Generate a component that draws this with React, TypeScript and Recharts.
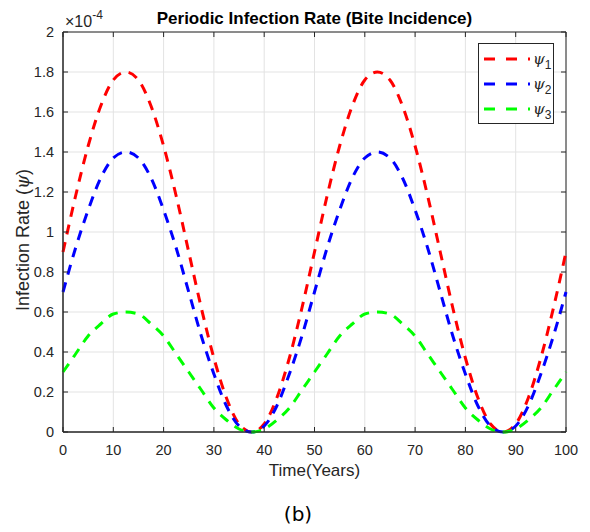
import {
  LineChart,
  Line,
  XAxis,
  YAxis,
  CartesianGrid,
  ReferenceArea,
} from "recharts";

// time samples (years)
const years = [
  0, 2.5, 5, 7.5, 10, 12.5, 15, 17.5, 20, 22.5, 25, 27.5, 30, 32.5, 35, 37.5,
  40, 42.5, 45, 47.5, 50, 52.5, 55, 57.5, 60, 62.5, 65, 67.5, 70, 72.5, 75,
  77.5, 80, 82.5, 85, 87.5, 90, 92.5, 95, 97.5, 100,
];

// infection rates in units of 1e-4
const psi1 = [
  0.9, 1.18, 1.43, 1.63, 1.76, 1.8, 1.76, 1.63, 1.43, 1.18, 0.9, 0.62, 0.37,
  0.17, 0.04, 0, 0.04, 0.17, 0.37, 0.62, 0.9, 1.18, 1.43, 1.63, 1.76, 1.8, 1.76,
  1.63, 1.43, 1.18, 0.9, 0.62, 0.37, 0.17, 0.04, 0, 0.04, 0.17, 0.37, 0.62, 0.9,
];
const psi2 = [
  0.7, 0.92, 1.11, 1.27, 1.37, 1.4, 1.37, 1.27, 1.11, 0.92, 0.7, 0.48, 0.29,
  0.13, 0.03, 0, 0.03, 0.13, 0.29, 0.48, 0.7, 0.92, 1.11, 1.27, 1.37, 1.4, 1.37,
  1.27, 1.11, 0.92, 0.7, 0.48, 0.29, 0.13, 0.03, 0, 0.03, 0.13, 0.29, 0.48, 0.7,
];
const psi3 = [
  0.3, 0.39, 0.48, 0.54, 0.59, 0.6, 0.59, 0.54, 0.48, 0.39, 0.3, 0.21, 0.12,
  0.06, 0.015, 0, 0.015, 0.06, 0.12, 0.21, 0.3, 0.39, 0.48, 0.54, 0.59, 0.6,
  0.59, 0.54, 0.48, 0.39, 0.3, 0.21, 0.12, 0.06, 0.015, 0, 0.015, 0.06, 0.12,
  0.21, 0.3,
];

const xTicks = [0, 10, 20, 30, 40, 50, 60, 70, 80, 90, 100];
const yTicks = [0, 0.2, 0.4, 0.6, 0.8, 1, 1.2, 1.4, 1.6, 1.8, 2];

const seriesNames = ["1", "2", "3"];
const seriesKeys = ["psi1", "psi2", "psi3"];
const seriesColors = ["#ff0000", "#0000ff", "#00ff00"];

const data = years.map((t, i) => ({
  t,
  psi1: psi1[i],
  psi2: psi2[i],
  psi3: psi3[i],
}));

const FONT = "'Liberation Sans', Arial, Helvetica, sans-serif";
const INK = "#262626";

// plot box
const LEFT = 63;
const RIGHT = 566;
const TOP = 32;
const BOTTOM = 432;

const XTick = (props: any) => {
  const { x, payload } = props;
  return (
    <g>
      <line x1={x} x2={x} y1={BOTTOM} y2={BOTTOM - 5} stroke={INK} />
      <line x1={x} x2={x} y1={TOP} y2={TOP + 5} stroke={INK} />
      <text
        x={x}
        y={BOTTOM + 23}
        textAnchor="middle"
        fontFamily={FONT}
        fontSize={14.5}
        fill={INK}
      >
        {payload.value}
      </text>
    </g>
  );
};

const YTick = (props: any) => {
  const { y, payload } = props;
  return (
    <g>
      <line x1={LEFT} x2={LEFT + 5} y1={y} y2={y} stroke={INK} />
      <line x1={RIGHT} x2={RIGHT - 5} y1={y} y2={y} stroke={INK} />
      <text
        x={LEFT - 9}
        y={y + 5}
        textAnchor="end"
        fontFamily={FONT}
        fontSize={14.5}
        fill={INK}
      >
        {payload.value}
      </text>
    </g>
  );
};

const Legend = () => (
  <div
    style={{
      position: "absolute",
      left: 478,
      top: 43,
      width: 74,
      height: 79,
      border: "1px solid #262626",
      background: "#fff",
    }}
  >
    <svg width={74} height={79} style={{ overflow: "visible" }}>
      {seriesNames.map((n, i) => (
        <g key={n}>
          <line
            x1={5}
            x2={51}
            y1={15 + i * 25}
            y2={15 + i * 25}
            stroke={seriesColors[i]}
            strokeWidth={3}
            strokeDasharray="11 11"
          />
          <text
            x={54}
            y={20 + i * 25}
            fontFamily="'DejaVu Serif', serif"
            fontStyle="italic"
            fontSize={15}
            fill={INK}
          >
            ψ
            <tspan fontStyle="normal" fontFamily={FONT} fontSize={12} dy={5}>
              {n}
            </tspan>
          </text>
        </g>
      ))}
    </svg>
  </div>
);

const App = () => {
  return (
    <div
      style={{
        position: "absolute",
        left: 0,
        top: 0,
        width: 590,
        height: 532,
        background: "#fff",
      }}
    >
      <LineChart
        width={590}
        height={532}
        data={data}
        margin={{ top: TOP, right: 590 - RIGHT, bottom: 0, left: 0 }}
      >
        <CartesianGrid stroke="#e3e3e3" strokeWidth={1} />
        <XAxis
          dataKey="t"
          type="number"
          domain={[0, 100]}
          ticks={xTicks}
          height={532 - BOTTOM}
          tickLine={false}
          axisLine={{ stroke: INK }}
          tick={<XTick />}
          interval={0}
        />
        <YAxis
          type="number"
          domain={[0, 2]}
          ticks={yTicks}
          width={LEFT}
          tickLine={false}
          axisLine={{ stroke: INK }}
          tick={<YTick />}
          interval={0}
        />
        <ReferenceArea
          x1={0}
          x2={100}
          y1={0}
          y2={2}
          fill="none"
          fillOpacity={0}
          stroke={INK}
          strokeWidth={1}
        />
        {seriesKeys.map((k, i) => (
          <Line
            key={k}
            type="monotone"
            dataKey={k}
            stroke={seriesColors[i]}
            strokeWidth={3}
            strokeDasharray="10 8"
            dot={false}
            isAnimationActive={false}
          />
        ))}
        <text
          x={(LEFT + RIGHT) / 2}
          y={24}
          textAnchor="middle"
          fontFamily={FONT}
          fontWeight="bold"
          fontSize={17}
          fill="#000"
        >
          Periodic Infection Rate (Bite Incidence)
        </text>
        <text x={65} y={27} fontFamily={FONT} fontSize={16} fill={INK}>
          ×10
          <tspan fontSize={12} dy={-8}>
            -4
          </tspan>
        </text>
        <text
          x={(LEFT + RIGHT) / 2}
          y={476}
          textAnchor="middle"
          fontFamily={FONT}
          fontSize={17}
          fill={INK}
        >
          Time(Years)
        </text>
        <text
          transform={`translate(29, 240) rotate(-90)`}
          textAnchor="middle"
          fontFamily={FONT}
          fontSize={18}
          fill={INK}
        >
          Infection Rate (
          <tspan fontFamily="'DejaVu Serif', serif" fontStyle="italic">
            ψ
          </tspan>
          )
        </text>
        <text
          x={298}
          y={521}
          textAnchor="middle"
          fontFamily="'DejaVu Sans', sans-serif"
          fontSize={20}
          fill="#000"
        >
          (b)
        </text>
      </LineChart>
      <Legend />
    </div>
  );
};

export default App;
